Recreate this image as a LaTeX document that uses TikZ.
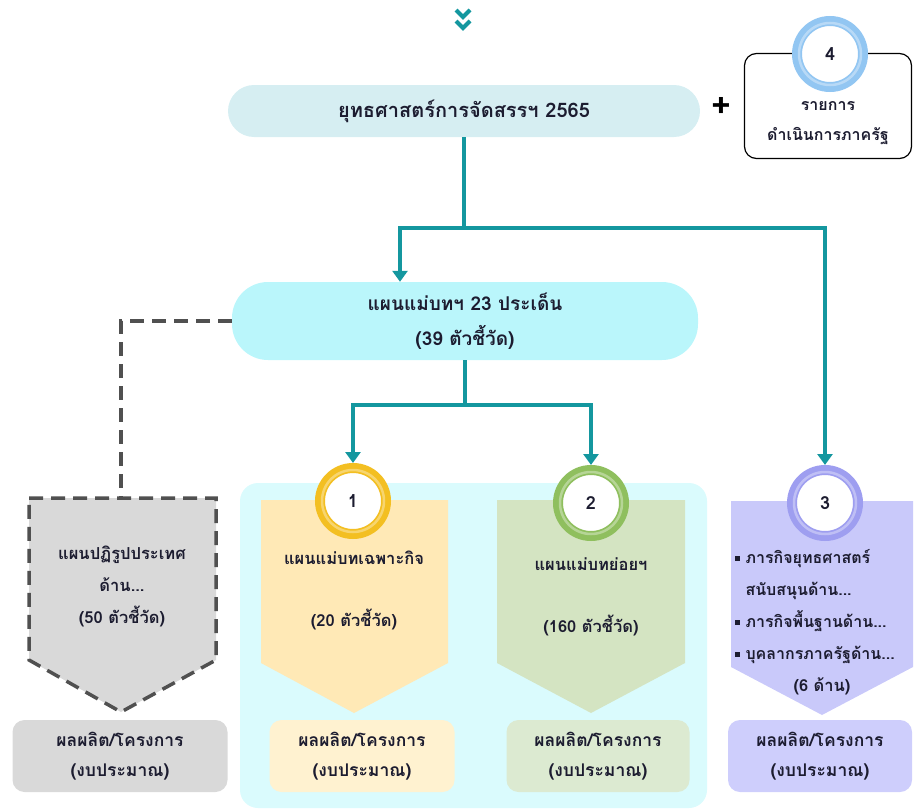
\documentclass[tikz,border=0pt]{standalone}
\usepackage{fontspec}
\setmainfont[Script=Thai]{Loma}
\usepackage{xcolor}
\usetikzlibrary{arrows.meta}
\definecolor{lineteal}{HTML}{14979F}
\definecolor{topfill}{HTML}{D6EEF2}
\definecolor{masterfill}{HTML}{BAF6FB}
\definecolor{panelfill}{HTML}{DAFBFD}
\definecolor{grayfill}{HTML}{D9D9D9}
\definecolor{dashgray}{HTML}{505050}
\definecolor{yellowfill}{HTML}{FFE9B6}
\definecolor{yellowbox}{HTML}{FFF2D0}
\definecolor{greenfill}{HTML}{D4E4C2}
\definecolor{greenbox}{HTML}{DCEAD1}
\definecolor{purplefill}{HTML}{C9C9FA}
\definecolor{purplebox}{HTML}{CECEFC}
\definecolor{ringgold}{HTML}{F3BF22}
\definecolor{ringgreen}{HTML}{8FBF5E}
\definecolor{ringpurple}{HTML}{9E9EF0}
\definecolor{ringblue}{HTML}{92C6F2}
\definecolor{textdark}{HTML}{1C1C30}

\tikzset{
  ring/.style={circle, draw=#1, line width=10pt, fill=white, minimum size=66pt,
    inner sep=0pt, text=textdark, font=\bfseries\fontsize{18}{18}\selectfont},
  link/.style={draw=lineteal, line width=3.5pt, -{Triangle[width=15pt,length=11pt]}},
  trunk/.style={draw=lineteal, line width=3.5pt},
  txt/.style={align=center, text=textdark, font=\bfseries\fontsize{16.5}{32}\selectfont},
  outbox/.style={txt, font=\bfseries\fontsize{17.5}{30}\selectfont, rounded corners=12pt,
    minimum width=188pt, minimum height=72pt}
}

\begin{document}
\begin{tikzpicture}[x=1pt,y=-1pt]
	\useasboundingbox (0,0) rectangle (914,811);
	% chevrons on top
	\draw [lineteal, line width=4pt] (456,10)--(463,17)--(470,10);
	\draw [lineteal, line width=4pt] (456,21)--(463,28)--(470,21);

	\node [txt, fill=topfill, rounded corners=26pt, minimum width=472pt, minimum height=52pt,
	  font=\bfseries\fontsize{20}{32}\selectfont] (plan) at (464,111) {ยุทธศาสตร์การจัดสรรฯ 2565};
	\node [font=\bfseries\fontsize{34}{34}\selectfont] (plus) at (721,107) {+};
	\node [draw, line width=1.2pt, rounded corners=12pt, minimum width=167pt, minimum height=105pt] (extra) at (828,106) {};
	\node [txt, font=\bfseries\fontsize{16}{30}\selectfont] (extratxt) at (828,123) {รายการ\\ดำเนินการภาครัฐ};
	\node [ring=ringblue] (c4) at (830,54) {4};

	\node [txt, fill=masterfill, rounded corners=36pt, minimum width=466pt, minimum height=78pt,
	  font=\bfseries\fontsize{19}{35}\selectfont] (master) at (465,321) {แผนแม่บทฯ 23 ประเด็น\\(39 ตัวชี้วัด)};

	% panel behind plans 1 and 2
	\fill [panelfill, rounded corners=18pt] (240,483) rectangle (707,808);

	% plan shapes
	\filldraw [fill=grayfill, draw=dashgray, line width=3.5pt, dash pattern=on 14pt off 8pt]
	  (29,498)--(216,498)--(216,660)--(121,712)--(29,660)--cycle;
	\fill [yellowfill] (261,500)--(448,500)--(448,663)--(354,713)--(261,663)--cycle;
	\fill [greenfill] (497,500)--(685,500)--(685,663)--(591,713)--(497,663)--cycle;
	\fill [purplefill] (731,501)--(913,501)--(913,667)--(822,715)--(731,667)--cycle;
	\coordinate (gtop) at (121,498);

	\node [txt] (reform) at (122,586) {แผนปฏิรูปประเทศ\\ด้าน...\\(50 ตัวชี้วัด)};
	\node [txt] (special) at (354,590) {แผนแม่บทเฉพาะกิจ\\[30pt](20 ตัวชี้วัด)};
	\node [txt] (sub) at (591,597) {แผนแม่บทย่อยฯ\\[30pt](160 ตัวชี้วัด)};
	\node [txt, font=\bfseries\fontsize{16}{32}\selectfont, align=left, anchor=north west] (mission) at (731,546)
	  {\rule[3pt]{5pt}{5pt}\hspace{6pt}ภารกิจยุทธศาสตร์\\\hspace*{11pt}สนับสนุนด้าน...\\
	   \rule[3pt]{5pt}{5pt}\hspace{6pt}ภารกิจพื้นฐานด้าน...\\\rule[3pt]{5pt}{5pt}\hspace{6pt}บุคลากรภาครัฐด้าน...};
	\node [txt] (sides) at (822,686) {(6 ด้าน)};

	\node [ring=ringgold] (c1) at (353,501) {1};
	\node [ring=ringgreen] (c2) at (591,503) {2};
	\node [ring=ringpurple] (c3) at (825,503) {3};
	\foreach \c in {c1,c2,c3,c4}
	  \draw [white, opacity=.35, line width=2.5pt] (\c) circle (31pt);

	% outputs
	\node [outbox, fill=grayfill, minimum width=215pt] (out0) at (120,756) {ผลผลิต/โครงการ\\(งบประมาณ)};
	\node [outbox, fill=yellowbox, minimum width=185pt] (out1) at (362,756) {ผลผลิต/โครงการ\\(งบประมาณ)};
	\node [outbox, fill=greenbox, minimum width=183pt] (out2) at (598,756) {ผลผลิต/โครงการ\\(งบประมาณ)};
	\node [outbox, fill=purplebox, minimum width=184pt] (out3) at (820,756) {ผลผลิต/โครงการ\\(งบประมาณ)};

	% connectors
	\coordinate (j1) at (464,228);
	\coordinate (j2) at (465,405);
	\draw [trunk] (plan.south) -- (j1);
	\draw [link] (j1) -| ([xshift=-65pt]master.north);
	\draw [link] (j1) -| (c3.north);
	\draw [trunk] (master.south) -- (j2);
	\draw [link] (j2) -| (c1.north);
	\draw [link] (j2) -| (c2.north);
	\draw [draw=dashgray, line width=3.5pt, dash pattern=on 14pt off 8pt] (master.west) -| (gtop);
\end{tikzpicture}
\end{document}
